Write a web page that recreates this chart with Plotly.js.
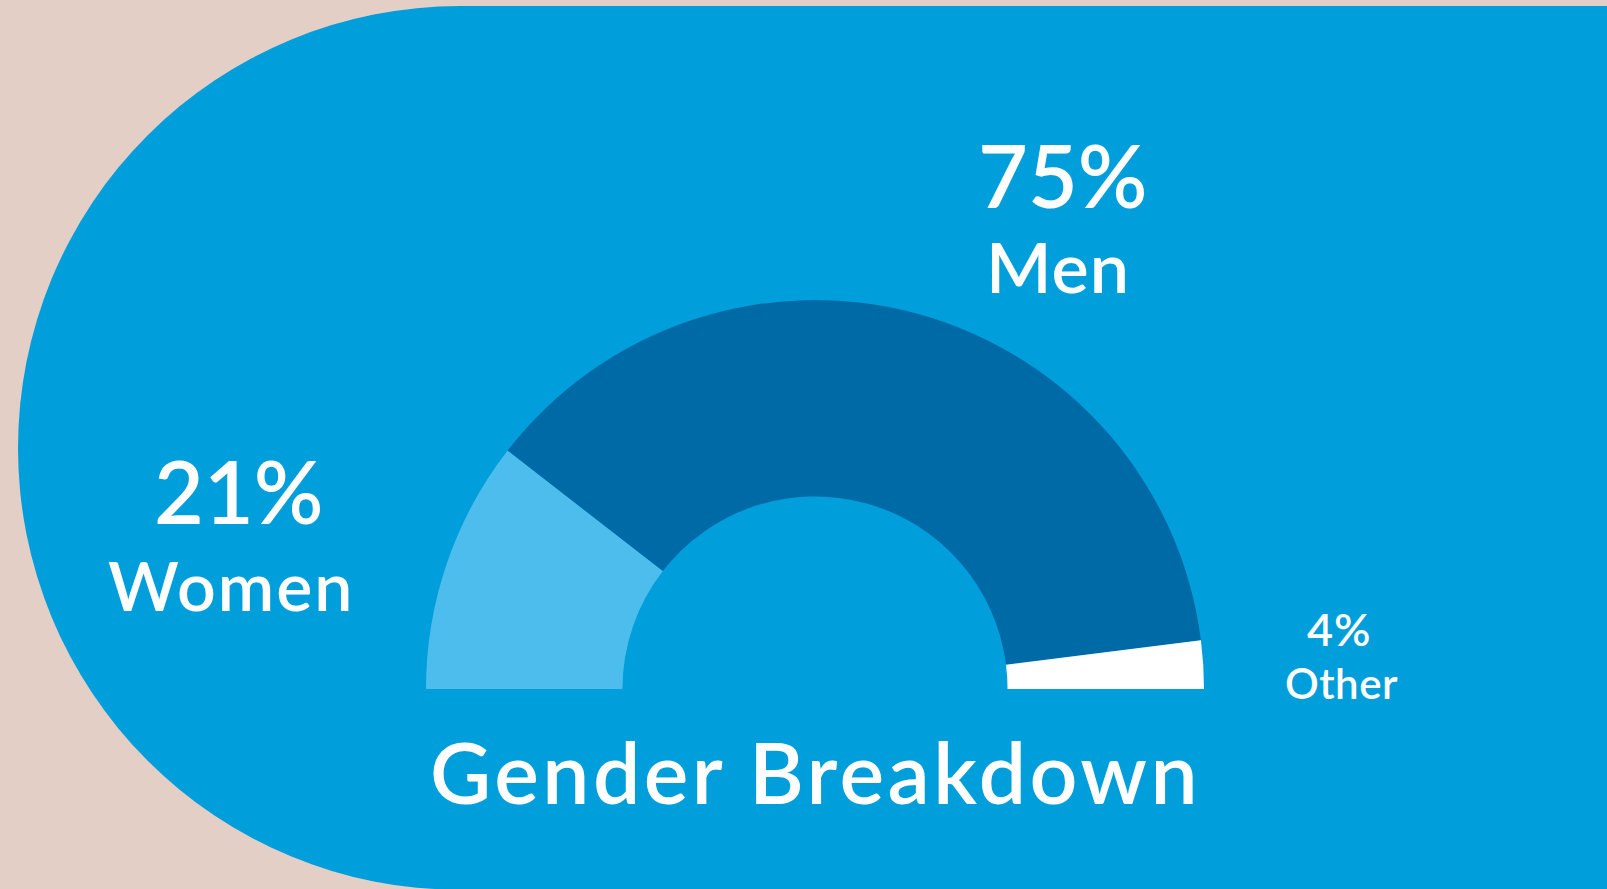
<!DOCTYPE html>
<html>
<head>
<meta charset="utf-8">
<script src="https://cdn.plot.ly/plotly-3.0.1.min.js"></script>
<style>
  html, body { margin: 0; padding: 0; overflow: hidden; background: #E4CFC7; }
  #chart { width: 1607px; height: 1100px; }
</style>
</head>
<body>
<div id="chart"></div>
<script>
// ---- data ----
var categories = ['Women', 'Men', 'Other'];
var shares = [21, 75, 4];
var shareLabels = ['21%', '75%', '4%'];
var sliceColors = ['#4DBDEE', '#006AA7', '#FFFFFF'];
var chartTitle = 'Gender Breakdown';

// ---- layout helpers (pixels -> paper) ----
var W = 1607, H = 1100;
function px(x) { return x / W; }
function py(y) { return (H - y) / H; }

var cx = 815, cy = 689, R = 389;
var total = shares.reduce(function (a, b) { return a + b; }, 0);

var trace = {
  type: 'pie',
  labels: categories.concat(['']),
  values: shares.concat([total]),
  marker: {
    colors: sliceColors.concat(['rgba(0,0,0,0)']),
    line: { width: 0 }
  },
  hole: 0.495,
  sort: false,
  direction: 'clockwise',
  rotation: -90,
  textinfo: 'none',
  hoverinfo: 'skip',
  showlegend: false,
  domain: { x: [px(cx - R), px(cx + R)], y: [py(cy + R), py(cy - R)] }
};

var font = 'Lato, "Noto Sans", sans-serif';
function ann(text, x, y, size, spacing) {
  var t = spacing ? '<span style="letter-spacing:' + spacing + 'px">' + text + '</span>' : text;
  return {
    text: t, x: px(x), y: py(y), xref: 'paper', yref: 'paper',
    xanchor: 'center', yanchor: 'middle', showarrow: false,
    font: { family: font, size: size, color: '#FFFFFF', weight: 600 }
  };
}

var annotations = [
  ann(shareLabels[1], 1063, 174, 86),
  ann(categories[1], 1058, 266, 70, 1),
  ann(shareLabels[0], 239, 490, 86),
  ann(categories[0], 232, 585, 68, 2),
  ann(shareLabels[2], 1339, 629, 45, 1),
  ann(categories[2], 1341, 683, 42, 0.5),
  ann(chartTitle, 815, 771, 84, 3.5)
];

var bcx = 460, bcy = 448, bR = 442;
var shapes = [
  { type: 'rect', xref: 'paper', yref: 'paper', layer: 'below',
    x0: px(bcx), x1: 1.01, y0: py(bcy + bR + 2), y1: py(bcy - bR),
    fillcolor: '#009FDB', line: { width: 0 } },
  { type: 'circle', xref: 'paper', yref: 'paper', layer: 'below',
    x0: px(bcx - bR), x1: px(bcx + bR), y0: py(bcy + bR), y1: py(bcy - bR),
    fillcolor: '#009FDB', line: { width: 0 } }
];

var layout = {
  width: W, height: H,
  margin: { l: 0, r: 0, t: 0, b: 0 },
  paper_bgcolor: '#E4CFC7',
  showlegend: false,
  shapes: shapes,
  annotations: annotations
};

Plotly.newPlot('chart', [trace], layout, { displayModeBar: false, staticPlot: true });
</script>
</body>
</html>
